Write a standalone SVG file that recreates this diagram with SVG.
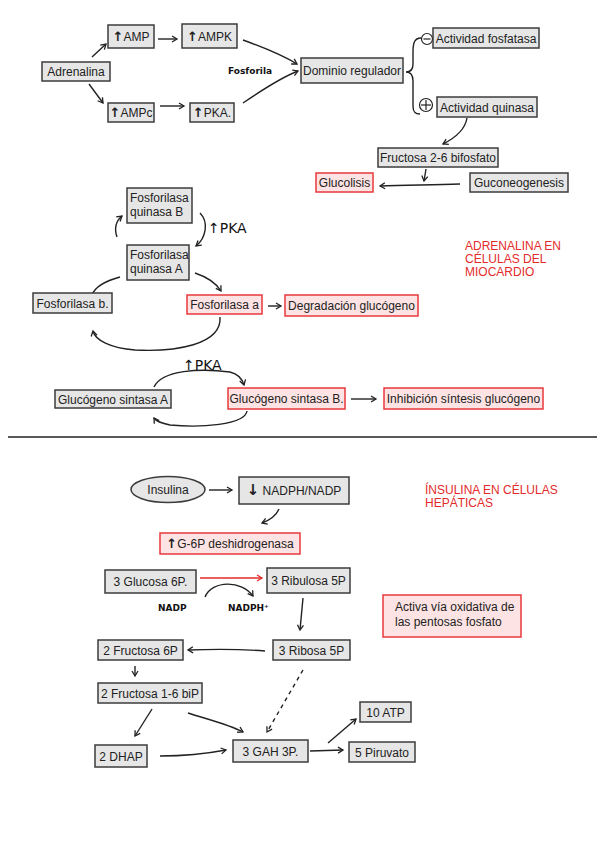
<svg xmlns="http://www.w3.org/2000/svg" width="599" height="848" viewBox="0 0 599 848">
<defs>
<style>
.b{fill:#e6e6e6;stroke:#3c3c3c;stroke-width:1.5}
.r{fill:#fde3e3;stroke:#e8383d;stroke-width:1.5}
.t{font-family:"Liberation Sans",Arial,sans-serif;font-size:12px;fill:#222;text-anchor:middle}
.tl{font-family:"Liberation Sans",Arial,sans-serif;font-size:12px;fill:#222}
.red{font-family:"Liberation Sans",Arial,sans-serif;font-size:12px;fill:#e32b2b}
.h{font-family:"DejaVu Sans",sans-serif;font-weight:bold;fill:#111}
.hn{font-family:"DejaVu Sans",sans-serif;font-weight:normal;fill:#111}
.up{font-family:"DejaVu Sans",sans-serif;font-weight:bold}
.c{fill:none;stroke:#222;stroke-width:1.4}
</style>
<marker id="a" markerWidth="8" markerHeight="8" refX="6" refY="4" orient="auto" markerUnits="userSpaceOnUse">
<path d="M1,1 L6,4 L1,7" fill="none" stroke="#222" stroke-width="1.3"/>
</marker>
<marker id="ar" markerWidth="8" markerHeight="8" refX="6" refY="4" orient="auto" markerUnits="userSpaceOnUse">
<path d="M1,1 L6,4 L1,7" fill="none" stroke="#e32b2b" stroke-width="1.3"/>
</marker>
</defs>
<rect width="599" height="848" fill="#fff"/>

<g id="connectors">
<path class="c" d="M92,57 L106,44" marker-end="url(#a)"/>
<path class="c" d="M89,84 L103,103" marker-end="url(#a)"/>
<path class="c" d="M158,39 L177,39" marker-end="url(#a)"/>
<path class="c" d="M160,106 L184,106" marker-end="url(#a)"/>
<path class="c" d="M243,40 C265,48 282,55 297,64" marker-end="url(#a)"/>
<path class="c" d="M243,103 C262,90 280,78 298,71" marker-end="url(#a)"/>
<path class="c" d="M421,38 C414,38 413,44 413,52 L413,64 C413,70 410,72 406,72 C410,72 413,75 413,81 L413,106 C413,112 415,114 420,114"/>
<path class="c" d="M467,118 C465,130 455,138 443,144" marker-end="url(#a)"/>
<path class="c" d="M426,169 L424,181" marker-end="url(#a)"/>
<path class="c" d="M460,184 C430,185 405,185 380,186" marker-end="url(#a)"/>

<path class="c" d="M117,237 C114,228 116,221 122,216" marker-end="url(#a)"/>
<path class="c" d="M200,213 C209,222 206,238 196,246" marker-end="url(#a)"/>
<path class="c" d="M120,277 C105,281 95,287 92,295"/>
<path class="c" d="M195,273 C207,277 216,283 221,291" marker-end="url(#a)"/>
<path class="c" d="M268,306 L281,306" marker-end="url(#a)"/>
<path class="c" d="M220,317 C222,345 175,352 135,350 C110,348 95,340 93,331" marker-end="url(#a)"/>

<path class="c" d="M154,387 C162,370 200,368 230,372 C238,374 242,378 244,385" marker-end="url(#a)"/>
<path class="c" d="M247,411 C245,425 200,428 170,425 C160,423 156,421 154,418" marker-end="url(#a)"/>
<path class="c" d="M351,399 L376,399" marker-end="url(#a)"/>

<path class="c" d="M209,490 L232,490" marker-end="url(#a)"/>
<path class="c" d="M279,509 C276,516 270,520 262,523" marker-end="url(#a)"/>
<path d="M200,578 L262,578" fill="none" stroke="#e32b2b" stroke-width="1.4" marker-end="url(#ar)"/>
<path class="c" d="M205,597 C212,580 242,580 253,596" marker-end="url(#a)"/>
<path class="c" d="M303,598 L300,630" marker-end="url(#a)"/>
<path class="c" d="M265,651 C240,649 215,649 188,650" marker-end="url(#a)"/>
<path class="c" d="M135,666 L135,676" marker-end="url(#a)"/>
<path class="c" d="M152,709 L135,736" marker-end="url(#a)"/>
<path class="c" d="M188,713 C210,720 230,725 243,732" marker-end="url(#a)"/>
<path class="c" d="M303,670 L267,732" stroke-dasharray="4,4" marker-end="url(#a)"/>
<path class="c" d="M160,756 C185,756 205,754 226,750" marker-end="url(#a)"/>
<path class="c" d="M310,751 L343,750" marker-end="url(#a)"/>
<path class="c" d="M328,743 L356,719" marker-end="url(#a)"/>
</g>

<line x1="8" y1="437" x2="597" y2="437" stroke="#222" stroke-width="1.5"/>

<g id="labels">
<text class="h" x="228" y="74" font-size="9">Fosforila</text>
<circle cx="427" cy="39" r="5.5" fill="none" stroke="#222" stroke-width="1.2"/>
<line x1="423.5" y1="39" x2="430.5" y2="39" stroke="#222" stroke-width="1.2"/>
<circle cx="426" cy="105" r="6.5" fill="none" stroke="#222" stroke-width="1.2"/>
<line x1="421" y1="105" x2="431" y2="105" stroke="#222" stroke-width="1.2"/>
<line x1="426" y1="100" x2="426" y2="110" stroke="#222" stroke-width="1.2"/>
<text class="hn" x="208" y="233" font-size="14">↑PKA</text>
<text class="hn" x="183" y="370" font-size="14">↑PKA</text>
<text class="red" x="465" y="250">ADRENALINA EN</text>
<text class="red" x="465" y="263">CÉLULAS DEL</text>
<text class="red" x="465" y="276">MIOCARDIO</text>
<text class="red" x="425" y="494">ÍNSULINA EN CÉLULAS</text>
<text class="red" x="425" y="507">HEPÁTICAS</text>
<text class="h" x="158" y="611" font-size="9">NADP</text>
<text class="h" x="228" y="611" font-size="9">NADPH⁺</text>
</g>

<g id="n-adrenalina"><rect class="b" x="42" y="62" width="68" height="19"/><text class="t" x="76" y="76">Adrenalina</text></g>
<g id="n-amp"><rect class="b" x="108" y="25" width="46" height="23"/><text class="t" x="131" y="41"><tspan class="up" font-size="13">↑</tspan>AMP</text></g>
<g id="n-ampk"><rect class="b" x="182" y="24" width="55" height="24"/><text class="t" x="209.5" y="40.5"><tspan class="up" font-size="13">↑</tspan>AMPK</text></g>
<g id="n-ampc"><rect class="b" x="108" y="103" width="46" height="19"/><text class="t" x="131" y="117"><tspan class="up" font-size="13">↑</tspan>AMPc</text></g>
<g id="n-pka"><rect class="b" x="190" y="103" width="44" height="19"/><text class="t" x="212" y="117"><tspan class="up" font-size="13">↑</tspan>PKA.</text></g>
<g id="n-dominio"><rect class="b" x="301" y="58" width="102" height="25"/><text class="t" x="352" y="75">Dominio regulador</text></g>
<g id="n-fosfatasa"><rect class="b" x="433" y="28" width="106" height="20"/><text class="t" x="486" y="42.5">Actividad fosfatasa</text></g>
<g id="n-quinasa"><rect class="b" x="437" y="97" width="100" height="20"/><text class="t" x="487" y="111.5">Actividad quinasa</text></g>
<g id="n-f26"><rect class="b" x="378" y="148" width="120" height="19"/><text class="t" x="438" y="162">Fructosa 2-6 bifosfato</text></g>
<g id="n-glucolisis"><rect class="r" x="316" y="173" width="57" height="19"/><text class="t" x="344.5" y="187">Glucolisis</text></g>
<g id="n-gluconeo"><rect class="b" x="470" y="173" width="98" height="19"/><text class="t" x="519" y="187">Guconeogenesis</text></g>
<g id="n-fqb"><rect class="b" x="127" y="188" width="65" height="35"/><text class="tl" x="130" y="202">Fosforilasa</text><text class="tl" x="130" y="216">quinasa B</text></g>
<g id="n-fqa"><rect class="b" x="127" y="245" width="62" height="35"/><text class="tl" x="130" y="259">Fosforilasa</text><text class="tl" x="130" y="273">quinasa A</text></g>
<g id="n-fb"><rect class="b" x="33" y="293" width="79" height="20"/><text class="t" x="72.5" y="307.5">Fosforilasa b.</text></g>
<g id="n-fa"><rect class="r" x="187" y="295" width="75" height="19"/><text class="t" x="224.5" y="309">Fosforilasa a</text></g>
<g id="n-degr"><rect class="r" x="285" y="295" width="133" height="21"/><text class="t" x="351.5" y="310">Degradación glucógeno</text></g>
<g id="n-gsa"><rect class="b" x="55" y="390" width="116" height="18"/><text class="t" x="113" y="403.5">Glucógeno sintasa A</text></g>
<g id="n-gsb"><rect class="r" x="228" y="388" width="117" height="21"/><text class="t" x="286.5" y="403">Glucógeno sintasa B.</text></g>
<g id="n-inhib"><rect class="r" x="384" y="388" width="159" height="21"/><text class="t" x="463.5" y="403">Inhibición síntesis glucógeno</text></g>

<g id="n-insulina"><ellipse cx="168" cy="489.5" rx="37" ry="13" fill="#e6e6e6" stroke="#3c3c3c" stroke-width="1.5"/><text class="t" x="168" y="494">Insulina</text></g>
<g id="n-nadph"><rect class="b" x="239" y="477" width="110" height="27"/><text class="t" x="294" y="495"><tspan class="up" font-size="15">↓</tspan> NADPH/NADP</text></g>
<g id="n-g6p"><rect class="r" x="160" y="533" width="140" height="21"/><text class="t" x="230" y="548"><tspan class="up" font-size="13">↑</tspan>G-6P deshidrogenasa</text></g>
<g id="n-activa"><rect class="r" x="383" y="595" width="138" height="42"/><text class="tl" x="395" y="611">Activa vía oxidativa de</text><text class="tl" x="395" y="626">las pentosas fosfato</text></g>
<g id="n-glucosa"><rect class="b" x="105" y="570" width="91" height="23"/><text class="t" x="150.5" y="586">3 Glucosa 6P.</text></g>
<g id="n-ribulosa"><rect class="b" x="267" y="568" width="83" height="25"/><text class="t" x="308.5" y="585">3 Ribulosa 5P</text></g>
<g id="n-ribosa"><rect class="b" x="273" y="640" width="77" height="20"/><text class="t" x="311.5" y="654.5">3 Ribosa 5P</text></g>
<g id="n-f6p"><rect class="b" x="98" y="640" width="85" height="20"/><text class="t" x="140.5" y="654.5">2 Fructosa 6P</text></g>
<g id="n-f16"><rect class="b" x="98" y="683" width="104" height="20"/><text class="t" x="150" y="697.5">2 Fructosa 1-6 biP</text></g>
<g id="n-dhap"><rect class="b" x="95" y="745" width="52" height="22"/><text class="t" x="121" y="760.5">2 DHAP</text></g>
<g id="n-gah"><rect class="b" x="233" y="740" width="75" height="22"/><text class="t" x="270.5" y="755.5">3 GAH 3P.</text></g>
<g id="n-atp"><rect class="b" x="360" y="702" width="51" height="20"/><text class="t" x="385.5" y="716.5">10 ATP</text></g>
<g id="n-piruvato"><rect class="b" x="349" y="742" width="66" height="20"/><text class="t" x="382" y="756.5">5 Piruvato</text></g>
</svg>
